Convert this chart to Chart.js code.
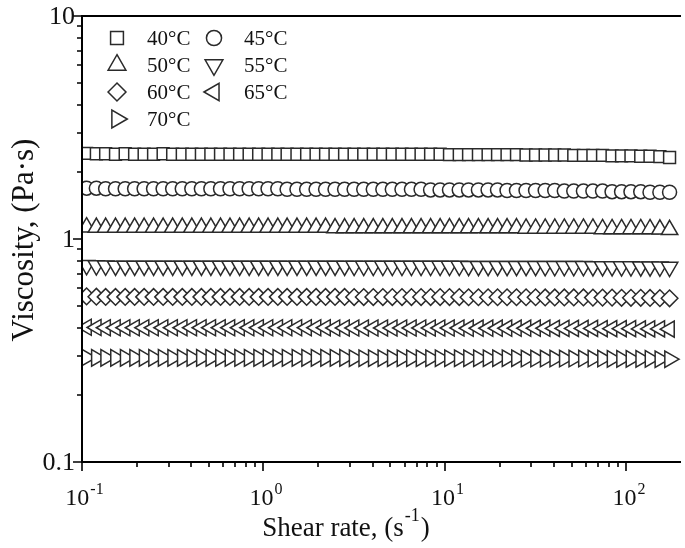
<!DOCTYPE html>
<html>
<head>
<meta charset="utf-8">
<script src="https://cdn.jsdelivr.net/npm/chart.js@4.4.2/dist/chart.umd.min.js"></script>
<style>
  html, body { margin: 0; padding: 0; background: #fff; overflow: hidden; }
  #wrap { position: absolute; left: 0; top: 0; width: 692px; height: 548px; }
</style>
</head>
<body>
<div id="wrap"><canvas id="viscosityChart" width="692" height="548"></canvas></div>
<script>
// shear rate, 1/s
const shearRate = [
  0.106, 0.120, 0.135, 0.153, 0.173, 0.195, 0.220, 0.248, 0.280, 0.316,
  0.357, 0.403, 0.455, 0.513, 0.580, 0.654, 0.739, 0.834, 0.941,
  1.06, 1.20, 1.35, 1.53, 1.73, 1.95, 2.20, 2.48, 2.80, 3.16,
  3.57, 4.03, 4.55, 5.13, 5.80, 6.54, 7.39, 8.34, 9.41,
  10.6, 12.0, 13.5, 15.3, 17.3, 19.5, 22.0, 24.8, 28.0, 31.6,
  35.7, 40.3, 45.5, 51.3, 58.0, 65.4, 73.9, 83.4, 94.1,
  106, 120, 135, 153, 173
];

// viscosity, Pa·s
const visc40 = [
  2.42, 2.41, 2.41, 2.40, 2.41, 2.40, 2.40, 2.40, 2.41, 2.40,
  2.40, 2.40, 2.40, 2.40, 2.40, 2.40, 2.40, 2.40, 2.40, 2.40,
  2.40, 2.40, 2.40, 2.40, 2.40, 2.40, 2.40, 2.40, 2.40, 2.40,
  2.40, 2.40, 2.40, 2.40, 2.40, 2.40, 2.40, 2.40, 2.39, 2.39,
  2.39, 2.39, 2.39, 2.39, 2.39, 2.39, 2.38, 2.38, 2.38, 2.38,
  2.38, 2.37, 2.37, 2.37, 2.37, 2.36, 2.36, 2.36, 2.35, 2.35,
  2.34, 2.32
];
const visc45 = [
  1.69, 1.69, 1.68, 1.68, 1.68, 1.68, 1.68, 1.68, 1.68, 1.68,
  1.68, 1.68, 1.68, 1.68, 1.68, 1.68, 1.68, 1.68, 1.68, 1.68,
  1.68, 1.67, 1.67, 1.67, 1.67, 1.67, 1.67, 1.67, 1.67, 1.67,
  1.67, 1.67, 1.67, 1.67, 1.67, 1.67, 1.66, 1.66, 1.66, 1.66,
  1.66, 1.66, 1.66, 1.66, 1.65, 1.65, 1.65, 1.65, 1.65, 1.65,
  1.64, 1.64, 1.64, 1.64, 1.64, 1.63, 1.63, 1.63, 1.63, 1.62,
  1.62, 1.62
];
const visc50 = [
  1.13, 1.125, 1.125, 1.125, 1.125, 1.125, 1.125, 1.125, 1.125, 1.125,
  1.125, 1.125, 1.125, 1.125, 1.125, 1.125, 1.125, 1.125, 1.125, 1.125,
  1.125, 1.125, 1.125, 1.125, 1.125, 1.125, 1.12, 1.12, 1.12, 1.12,
  1.12, 1.12, 1.12, 1.12, 1.12, 1.12, 1.12, 1.12, 1.12, 1.12,
  1.12, 1.12, 1.12, 1.12, 1.12, 1.12, 1.115, 1.115, 1.115, 1.115,
  1.115, 1.115, 1.115, 1.115, 1.11, 1.11, 1.11, 1.11, 1.11, 1.11,
  1.105, 1.10
];
const visc55 = [
  0.762, 0.760, 0.758, 0.757, 0.757, 0.757, 0.757, 0.757, 0.757, 0.757,
  0.757, 0.757, 0.757, 0.757, 0.757, 0.757, 0.757, 0.757, 0.757, 0.757,
  0.757, 0.757, 0.757, 0.757, 0.757, 0.757, 0.757, 0.757, 0.756, 0.756,
  0.756, 0.756, 0.756, 0.756, 0.756, 0.756, 0.756, 0.756, 0.756, 0.756,
  0.755, 0.755, 0.755, 0.755, 0.755, 0.755, 0.755, 0.755, 0.754, 0.754,
  0.754, 0.754, 0.754, 0.753, 0.753, 0.753, 0.752, 0.752, 0.751, 0.751,
  0.750, 0.748
];
const visc60 = [
  0.553, 0.551, 0.550, 0.550, 0.550, 0.550, 0.550, 0.550, 0.550, 0.550,
  0.550, 0.550, 0.550, 0.550, 0.550, 0.550, 0.550, 0.550, 0.550, 0.550,
  0.550, 0.550, 0.550, 0.550, 0.550, 0.550, 0.550, 0.550, 0.549, 0.549,
  0.549, 0.549, 0.549, 0.549, 0.549, 0.549, 0.549, 0.549, 0.549, 0.549,
  0.548, 0.548, 0.548, 0.548, 0.548, 0.548, 0.548, 0.548, 0.547, 0.547,
  0.547, 0.547, 0.547, 0.546, 0.546, 0.546, 0.545, 0.545, 0.545, 0.544,
  0.543, 0.542
];
const visc65 = [
  0.402, 0.401, 0.400, 0.400, 0.400, 0.400, 0.400, 0.400, 0.400, 0.400,
  0.400, 0.400, 0.400, 0.400, 0.400, 0.400, 0.400, 0.400, 0.400, 0.400,
  0.400, 0.400, 0.400, 0.400, 0.400, 0.400, 0.399, 0.399, 0.399, 0.399,
  0.399, 0.399, 0.399, 0.399, 0.399, 0.399, 0.399, 0.399, 0.399, 0.399,
  0.398, 0.398, 0.398, 0.398, 0.398, 0.398, 0.398, 0.398, 0.398, 0.397,
  0.397, 0.397, 0.397, 0.397, 0.396, 0.396, 0.396, 0.396, 0.395, 0.395,
  0.395, 0.394
];
const visc70 = [
  0.294, 0.293, 0.293, 0.293, 0.293, 0.293, 0.293, 0.293, 0.293, 0.293,
  0.293, 0.293, 0.293, 0.293, 0.293, 0.293, 0.293, 0.293, 0.293, 0.293,
  0.293, 0.293, 0.293, 0.293, 0.293, 0.293, 0.293, 0.293, 0.292, 0.292,
  0.292, 0.292, 0.292, 0.292, 0.292, 0.292, 0.292, 0.292, 0.292, 0.292,
  0.292, 0.292, 0.292, 0.292, 0.292, 0.292, 0.291, 0.291, 0.291, 0.291,
  0.291, 0.291, 0.291, 0.291, 0.291, 0.290, 0.290, 0.290, 0.290, 0.290,
  0.289, 0.289
];

const seriesLabels = ['40°C', '45°C', '50°C', '55°C', '60°C', '65°C', '70°C'];
const seriesValues = [visc40, visc45, visc50, visc55, visc60, visc65, visc70];

const xMajorTicks = [0.1, 1, 10, 100];
const xTickExp = ['-1', '0', '1', '2'];
const xMinorTicks = [0.2, 0.3, 0.4, 0.5, 0.6, 0.7, 0.8, 0.9,
  2, 3, 4, 5, 6, 7, 8, 9, 20, 30, 40, 50, 60, 70, 80, 90];
const yMajorTicks = [0.1, 1, 10];
const yTickLabels = ['0.1', '1', '10'];
const yMinorTicks = [0.2, 0.3, 0.4, 0.5, 0.6, 0.7, 0.8, 0.9, 2, 3, 4, 5, 6, 7, 8, 9];

// marker styles for each series (Origin default order)
const markers = [
  { pointStyle: 'rect', rotation: 0, radius: 8.4 },
  { pointStyle: 'circle', rotation: 0, radius: 7 },
  { pointStyle: 'triangle', rotation: 0, radius: 9.5 },
  { pointStyle: 'triangle', rotation: 180, radius: 9.5 },
  { pointStyle: 'rectRot', rotation: 0, radius: 8.3 },
  { pointStyle: 'triangle', rotation: -90, radius: 9.3 },
  { pointStyle: 'triangle', rotation: 90, radius: 9.5 }
];

const FONT = '"Liberation Serif", "Times New Roman", serif';
const INK = '#111';
const MARK = '#2a2a2a';

function drawSup(ctx, base, sup, cx, baseline, size) {
  ctx.font = size + 'px ' + FONT;
  const wb = ctx.measureText(base).width;
  ctx.font = Math.round(size * 0.68) + 'px ' + FONT;
  const ws = ctx.measureText(sup).width;
  let x0 = cx - (wb + ws) / 2;
  ctx.textAlign = 'left';
  ctx.textBaseline = 'alphabetic';
  ctx.font = size + 'px ' + FONT;
  ctx.fillText(base, x0, baseline);
  ctx.font = Math.round(size * 0.68) + 'px ' + FONT;
  ctx.fillText(sup, x0 + wb + 1, baseline - size * 0.45);
}

const originFrame = {
  id: 'originFrame',
  afterDraw(chart) {
    const { ctx, chartArea: a, scales: { x, y } } = chart;
    const L = Math.round(a.left), R = Math.round(a.right);
    const T = Math.round(a.top), B = Math.round(a.bottom);
    ctx.save();
    ctx.strokeStyle = '#000';
    ctx.lineWidth = 2;
    ctx.beginPath();
    ctx.moveTo(L, T - 1); ctx.lineTo(L, B + 1);
    ctx.moveTo(L - 1, B); ctx.lineTo(R, B);
    ctx.moveTo(L - 1, T); ctx.lineTo(R, T);
    ctx.stroke();

    ctx.lineWidth = 1.6;
    ctx.beginPath();
    xMajorTicks.forEach(v => {
      const px = Math.round(x.getPixelForValue(v));
      ctx.moveTo(px, B); ctx.lineTo(px, B + 9);
    });
    xMinorTicks.forEach(v => {
      const px = Math.round(x.getPixelForValue(v));
      ctx.moveTo(px, B); ctx.lineTo(px, B + 5);
    });
    yMajorTicks.forEach(v => {
      const py = Math.round(y.getPixelForValue(v));
      ctx.moveTo(L, py); ctx.lineTo(L - 9, py);
    });
    yMinorTicks.forEach(v => {
      const py = Math.round(y.getPixelForValue(v));
      ctx.moveTo(L, py); ctx.lineTo(L - 5, py);
    });
    ctx.stroke();

    ctx.fillStyle = INK;
    xMajorTicks.forEach((v, i) => {
      drawSup(ctx, '10', xTickExp[i], x.getPixelForValue(v) + 2, B + 43, 24);
    });
    ctx.font = '26px ' + FONT;
    ctx.textAlign = 'right';
    ctx.textBaseline = 'middle';
    yMajorTicks.forEach((v, i) => {
      ctx.fillText(yTickLabels[i], L - 7, y.getPixelForValue(v) + 1);
    });

    // axis titles
    ctx.font = '27px ' + FONT;
    const t1 = 'Shear rate, (s';
    const w1 = ctx.measureText(t1).width;
    ctx.font = '18px ' + FONT;
    const ws = ctx.measureText('-1').width;
    ctx.font = '27px ' + FONT;
    const w2 = ctx.measureText(')').width;
    let tx = 345 - (w1 + ws + w2) / 2;
    ctx.textAlign = 'left';
    ctx.textBaseline = 'alphabetic';
    ctx.fillText(t1, tx, 536);
    ctx.font = '18px ' + FONT;
    ctx.fillText('-1', tx + w1 + 1, 521);
    ctx.font = '27px ' + FONT;
    ctx.fillText(')', tx + w1 + ws + 2, 536);

    ctx.save();
    ctx.translate(33, 240);
    ctx.rotate(-Math.PI / 2);
    ctx.textAlign = 'center';
    ctx.font = '31px ' + FONT;
    ctx.fillText('Viscosity, (Pa·s)', 0, 0);
    ctx.restore();

    // legend, two columns
    const colMark = [117, 214], colText = [147, 244];
    seriesLabels.forEach((lab, i) => {
      const col = i % 2, row = Math.floor(i / 2);
      const cy = 38 + row * 27;
      const m = markers[i];
      ctx.fillStyle = '#fff';
      ctx.strokeStyle = MARK;
      ctx.lineWidth = 1.5;
      Chart.helpers.drawPoint(ctx, {
        pointStyle: m.pointStyle, rotation: m.rotation,
        radius: m.radius * 1.08, borderWidth: 1.5
      }, colMark[col], cy);
      ctx.fillStyle = INK;
      ctx.font = '21px ' + FONT;
      ctx.textAlign = 'left';
      ctx.textBaseline = 'middle';
      ctx.fillText(lab, colText[col], cy + 1);
    });
    ctx.restore();
  }
};

new Chart(document.getElementById('viscosityChart'), {
  type: 'scatter',
  data: {
    datasets: seriesValues.map((vals, i) => ({
      label: seriesLabels[i],
      data: shearRate.map((sr, k) => ({ x: sr, y: vals[k] })),
      showLine: false,
      pointStyle: markers[i].pointStyle,
      rotation: markers[i].rotation,
      pointRadius: markers[i].radius,
      pointBorderWidth: 1.5,
      pointBorderColor: MARK,
      pointBackgroundColor: '#fff'
    }))
  },
  options: {
    responsive: false,
    animation: false,
    events: [],
    layout: { padding: { left: 82, top: 16, right: 3, bottom: 86 } },
    plugins: {
      legend: { display: false },
      tooltip: { enabled: false }
    },
    scales: {
      x: { type: 'logarithmic', min: 0.1, max: 200, display: false },
      y: { type: 'logarithmic', min: 0.1, max: 10, display: false }
    }
  },
  plugins: [originFrame]
});
</script>
</body>
</html>
